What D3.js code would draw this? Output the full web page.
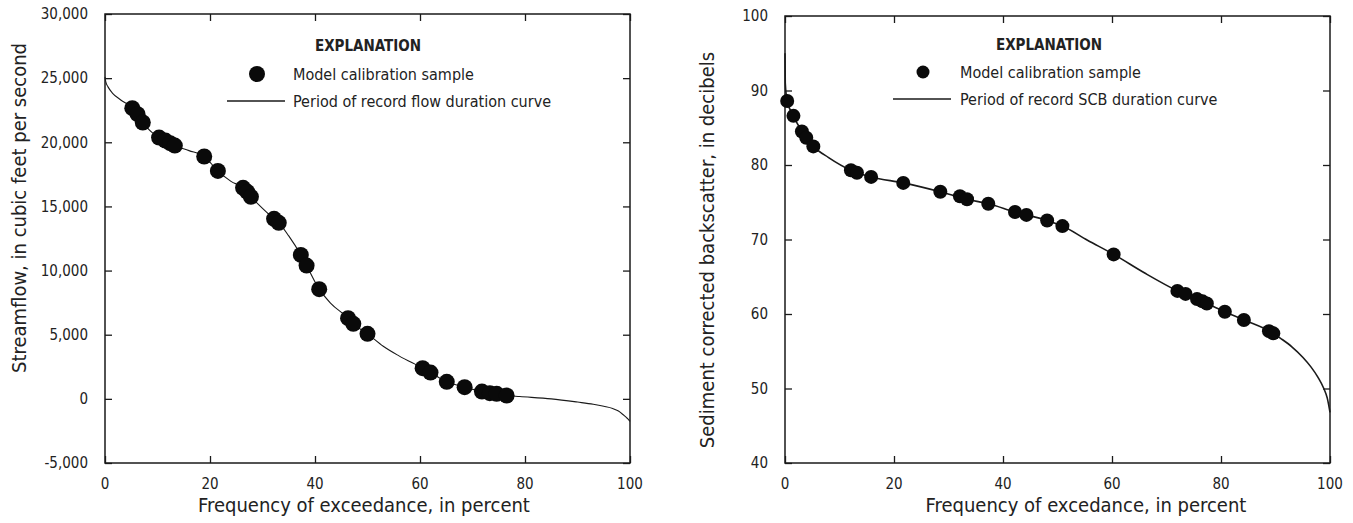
<!DOCTYPE html>
<html><head><meta charset="utf-8">
<script src="https://cdn.jsdelivr.net/npm/d3@7/dist/d3.min.js"></script>
<style>
html,body{margin:0;padding:0;background:#fff;}
svg text{font-family:"Liberation Sans Narrow","DejaVu Sans Condensed","Roboto Condensed","Liberation Sans",sans-serif;fill:#222;}
</style></head>
<body>
<svg id="chart" width="1353" height="523"></svg>
<script>
// ---------- Data: left panel (streamflow) ----------
const flowSamplePct = [5.2,6.2,7.2,10.3,11.5,12.4,13.3,18.9,21.5,26.3,27.1,27.8,32.2,33.1,37.3,38.4,40.8,46.3,47.3,50.0,60.5,62.0,65.1,68.5,71.8,73.3,74.6,76.5];
const flowSampleCfs = [22660,22190,21540,20370,20130,19930,19740,18890,17770,16450,16140,15750,14030,13720,11220,10390,8550,6290,5850,5070,2390,2050,1330,910,570,440,390,260];
const flowCurvePct = [0,0.15,0.6,1.5,3,5.2,7.2,9,10.3,13.3,16,18.9,21.5,24,26.3,27.8,30,32.2,33.1,35,37.3,38.4,40.8,43,46.3,47.3,50,53,56,60.5,62,65.1,68.5,71.8,74.6,76.5,79,85,90,93,95,96.7,97.8,98.6,99.3,99.8,100];
const flowCurveCfs = [25100,24700,24300,23800,23300,22660,21540,20750,20370,19740,19350,18890,17770,16950,16450,15750,14850,14030,13720,12700,11220,10390,8550,7450,6290,5850,5070,4100,3350,2390,2050,1330,910,570,390,260,180,0,-250,-420,-580,-750,-950,-1200,-1450,-1650,-1750];
const flowTicksY = [-5000,0,5000,10000,15000,20000,25000,30000];
const pctTicks = [0,20,40,60,80,100];

// ---------- Data: right panel (SCB) ----------
const scbSamplePct = [0.4,1.55,3.1,3.9,5.2,12.1,13.2,15.8,21.7,28.5,32.1,33.4,37.3,42.2,44.3,48.1,50.9,60.3,72.0,73.5,75.6,76.6,77.4,80.7,84.2,88.8,89.6];
const scbSampleDb = [88.6,86.6,84.5,83.65,82.5,79.3,78.95,78.4,77.6,76.4,75.8,75.4,74.8,73.7,73.3,72.55,71.8,68.0,63.1,62.7,62.0,61.7,61.4,60.3,59.2,57.7,57.4];
const scbCurvePct = [0,0.05,0.4,1.55,3.1,5.2,8,12.1,15.8,21.7,28.5,33.4,37.3,42.2,48.1,50.9,55.5,60.3,66,72,77.4,80.7,84.2,89.6,91,93,95,96.5,97.8,98.8,99.5,100];
const scbCurveDb = [95,91,88.6,86.6,84.5,82.5,81,79.3,78.4,77.6,76.4,75.4,74.8,73.7,72.55,71.8,69.9,68.0,65.5,63.1,61.4,60.3,59.2,57.4,56.7,55.6,54.2,52.9,51.5,50.1,48.7,46.8];
const scbTicksY = [40,50,60,70,80,90,100];

const svg = d3.select("#chart");
const INK = "#1a1a1a";

function panel(cfg){
  const g = svg.append("g");
  const x = d3.scaleLinear().domain([0,100]).range([cfg.left,cfg.right]);
  const y = d3.scaleLinear().domain(cfg.yDomain).range([cfg.bottom,cfg.top]);
  const tl = 7;
  const style = a=>{a.select(".domain").remove();a.selectAll("line").attr("stroke",INK).attr("stroke-width",1.3);};
  g.append("g").attr("transform",`translate(${cfg.left},0)`)
    .call(d3.axisRight(y).tickValues(cfg.yTicks).tickSize(tl).tickFormat("")).call(style);
  g.append("g").attr("transform",`translate(${cfg.right},0)`)
    .call(d3.axisLeft(y).tickValues(cfg.yTicks).tickSize(tl).tickFormat("")).call(style);
  g.append("g").attr("transform",`translate(0,${cfg.bottom})`)
    .call(d3.axisTop(x).tickValues(pctTicks).tickSize(tl).tickFormat("")).call(style);
  g.append("g").attr("transform",`translate(0,${cfg.top})`)
    .call(d3.axisBottom(x).tickValues(pctTicks).tickSize(tl).tickFormat("")).call(style);
  // tick labels
  g.append("g").selectAll("text").data(cfg.yTicks).join("text")
    .attr("x",cfg.left-17).attr("y",d=>y(d)).attr("dy","0.35em")
    .attr("text-anchor","end").style("font-size","15px").text(cfg.yFmt);
  g.append("g").selectAll("text").data(pctTicks).join("text")
    .attr("x",d=>x(d)).attr("y",cfg.bottom+21).attr("dy","0.35em")
    .attr("text-anchor","middle").style("font-size","15px").text(d=>d);
  // frame
  g.append("rect").attr("x",cfg.left).attr("y",cfg.top)
    .attr("width",cfg.right-cfg.left).attr("height",cfg.bottom-cfg.top)
    .attr("fill","none").attr("stroke",INK).attr("stroke-width",1.5);
  // axis titles
  g.append("text").attr("x",cfg.xTitleX).attr("y",cfg.bottom+49)
    .attr("text-anchor","middle").style("font-size","20px").text(cfg.xTitle);
  g.append("text").attr("transform",`translate(${cfg.yTitleX},${cfg.yTitleY}) rotate(-90)`)
    .attr("text-anchor","middle").attr("dy","0.35em").style("font-size","20px").text(cfg.yTitle);
  // curve
  const line = d3.line().x(d=>x(d[0])).y(d=>y(d[1])).curve(d3.curveMonotoneX);
  g.append("path").datum(d3.zip(cfg.curveX,cfg.curveY)).attr("d",line)
    .attr("fill","none").attr("stroke",INK).attr("stroke-width",cfg.lineW);
  // samples
  g.append("g").selectAll("circle").data(d3.zip(cfg.sampX,cfg.sampY)).join("circle")
    .attr("cx",d=>x(d[0])).attr("cy",d=>y(d[1])).attr("r",cfg.r).attr("fill","#0a0a0a");
  // legend
  const L = cfg.legend;
  g.append("text").attr("x",L.cx).attr("y",L.y0).attr("dy","0.35em").attr("text-anchor","middle")
    .style("font-size","15px").style("font-weight","bold").text("EXPLANATION");
  g.append("circle").attr("cx",L.dotX).attr("cy",L.y1).attr("r",L.dotR).attr("fill","#0a0a0a");
  g.append("text").attr("x",L.tx).attr("y",L.y1).attr("dy","0.35em").style("font-size","16px").text("Model calibration sample");
  g.append("line").attr("x1",L.lx1).attr("x2",L.lx2).attr("y1",L.y2).attr("y2",L.y2).attr("stroke",INK).attr("stroke-width",1.6);
  g.append("text").attr("x",L.tx).attr("y",L.y2).attr("dy","0.35em").style("font-size","16px").text(L.lineText);
}

panel({left:105,right:630,top:14,bottom:463,yDomain:[-5000,30000],yTicks:flowTicksY,
  yFmt:d=>d3.format(",")(d).replace("−","-"),
  xTitle:"Frequency of exceedance, in percent",xTitleX:364,
  yTitle:"Streamflow, in cubic feet per second",yTitleX:19,yTitleY:208,
  curveX:flowCurvePct,curveY:flowCurveCfs,sampX:flowSamplePct,sampY:flowSampleCfs,r:8,lineW:1.1,
  legend:{cx:368,y0:46,y1:74,y2:101,dotX:257,dotR:8,tx:293,lx1:227,lx2:285,lineText:"Period of record flow duration curve"}});

panel({left:785,right:1330,top:16,bottom:463,yDomain:[40,100],yTicks:scbTicksY,
  yFmt:d=>d,
  xTitle:"Frequency of excedance, in percent",xTitleX:1086,
  yTitle:"Sediment corrected backscatter, in decibels",yTitleX:707,yTitleY:250,
  curveX:scbCurvePct,curveY:scbCurveDb,sampX:scbSamplePct,sampY:scbSampleDb,r:7,lineW:1.6,
  legend:{cx:1049,y0:45,y1:72,y2:99,dotX:923,dotR:6.5,tx:960,lx1:893,lx2:951,lineText:"Period of record SCB duration curve"}});
</script>
</body></html>
